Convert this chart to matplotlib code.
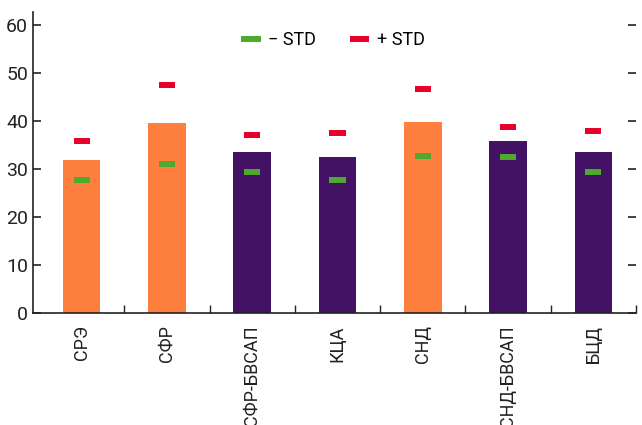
import matplotlib.pyplot as plt
from matplotlib.lines import Line2D

categories = ["СРЭ", "СФР", "СФР-БВСАП", "КЦА", "СНД", "СНД-БВСАП", "БЦД"]
means = [31.9, 39.6, 33.5, 32.5, 39.8, 35.8, 33.5]
minus_std = [27.7, 31.0, 29.4, 27.7, 32.7, 32.5, 29.4]
plus_std = [35.8, 47.5, 37.1, 37.5, 46.7, 38.75, 37.9]
bar_colors = ["#FF7F3F", "#FF7F3F", "#431264", "#431264", "#FF7F3F", "#431264", "#431264"]

plt.rcParams['font.family'] = ['Liberation Sans Narrow', 'Roboto', 'DejaVu Sans']

fig = plt.figure(figsize=(6.42, 4.25), dpi=100)
ax = fig.add_axes([33 / 642, 1 - 313 / 425, (636 - 33) / 642, (313 - 12) / 425])

x = list(range(len(categories)))
ax.bar(x, means, width=0.44, color=bar_colors, zorder=2)
ax.hlines(minus_std, [i - 0.095 for i in x], [i + 0.095 for i in x], color="#4DAA2E", linewidth=4.3, zorder=3)
ax.hlines(plus_std, [i - 0.095 for i in x], [i + 0.095 for i in x], color="#E8002A", linewidth=4.3, zorder=3)

ax.set_xlim(-0.57, 6.5)
ax.set_ylim(0, 62.7)
ax.set_yticks(range(0, 61, 10))
ax.tick_params(axis="y", direction="in", length=6, width=1.2, labelsize=14,
               right=True, colors="#222222", labelcolor="#222222")
# right ticks outward
for t in ax.yaxis.get_major_ticks():
    t.tick2line.set_marker(0)  # TICKRIGHT
    t.tick2line.set_markersize(6)
    t.tick2line.set_color("#222222")

ax.set_xticks([i + 0.5 for i in x])
ax.set_xticklabels([])
ax.tick_params(axis="x", direction="in", length=6, width=1, colors="#222222")
for i, c in enumerate(categories):
    ax.text(i, -2.6, c, rotation=90, ha="center", va="top", fontsize=13, color="#222222")

for s in ["top", "right"]:
    ax.spines[s].set_visible(False)
ax.spines["left"].set_linewidth(1.2)
ax.spines["bottom"].set_linewidth(1.2)
ax.spines["left"].set_color("#222222")
ax.spines["bottom"].set_color("#222222")

handles = [Line2D([], [], color="#4DAA2E", linewidth=4.3),
           Line2D([], [], color="#E8002A", linewidth=4.3)]
ax.legend(handles, ["− STD", "+ STD"], loc="upper center", bbox_to_anchor=(0.5, 0.99),
          ncol=2, frameon=False, fontsize=13, handlelength=0.75, columnspacing=2.0,
          handletextpad=0.6)

fig.savefig("out.png", dpi=100)
